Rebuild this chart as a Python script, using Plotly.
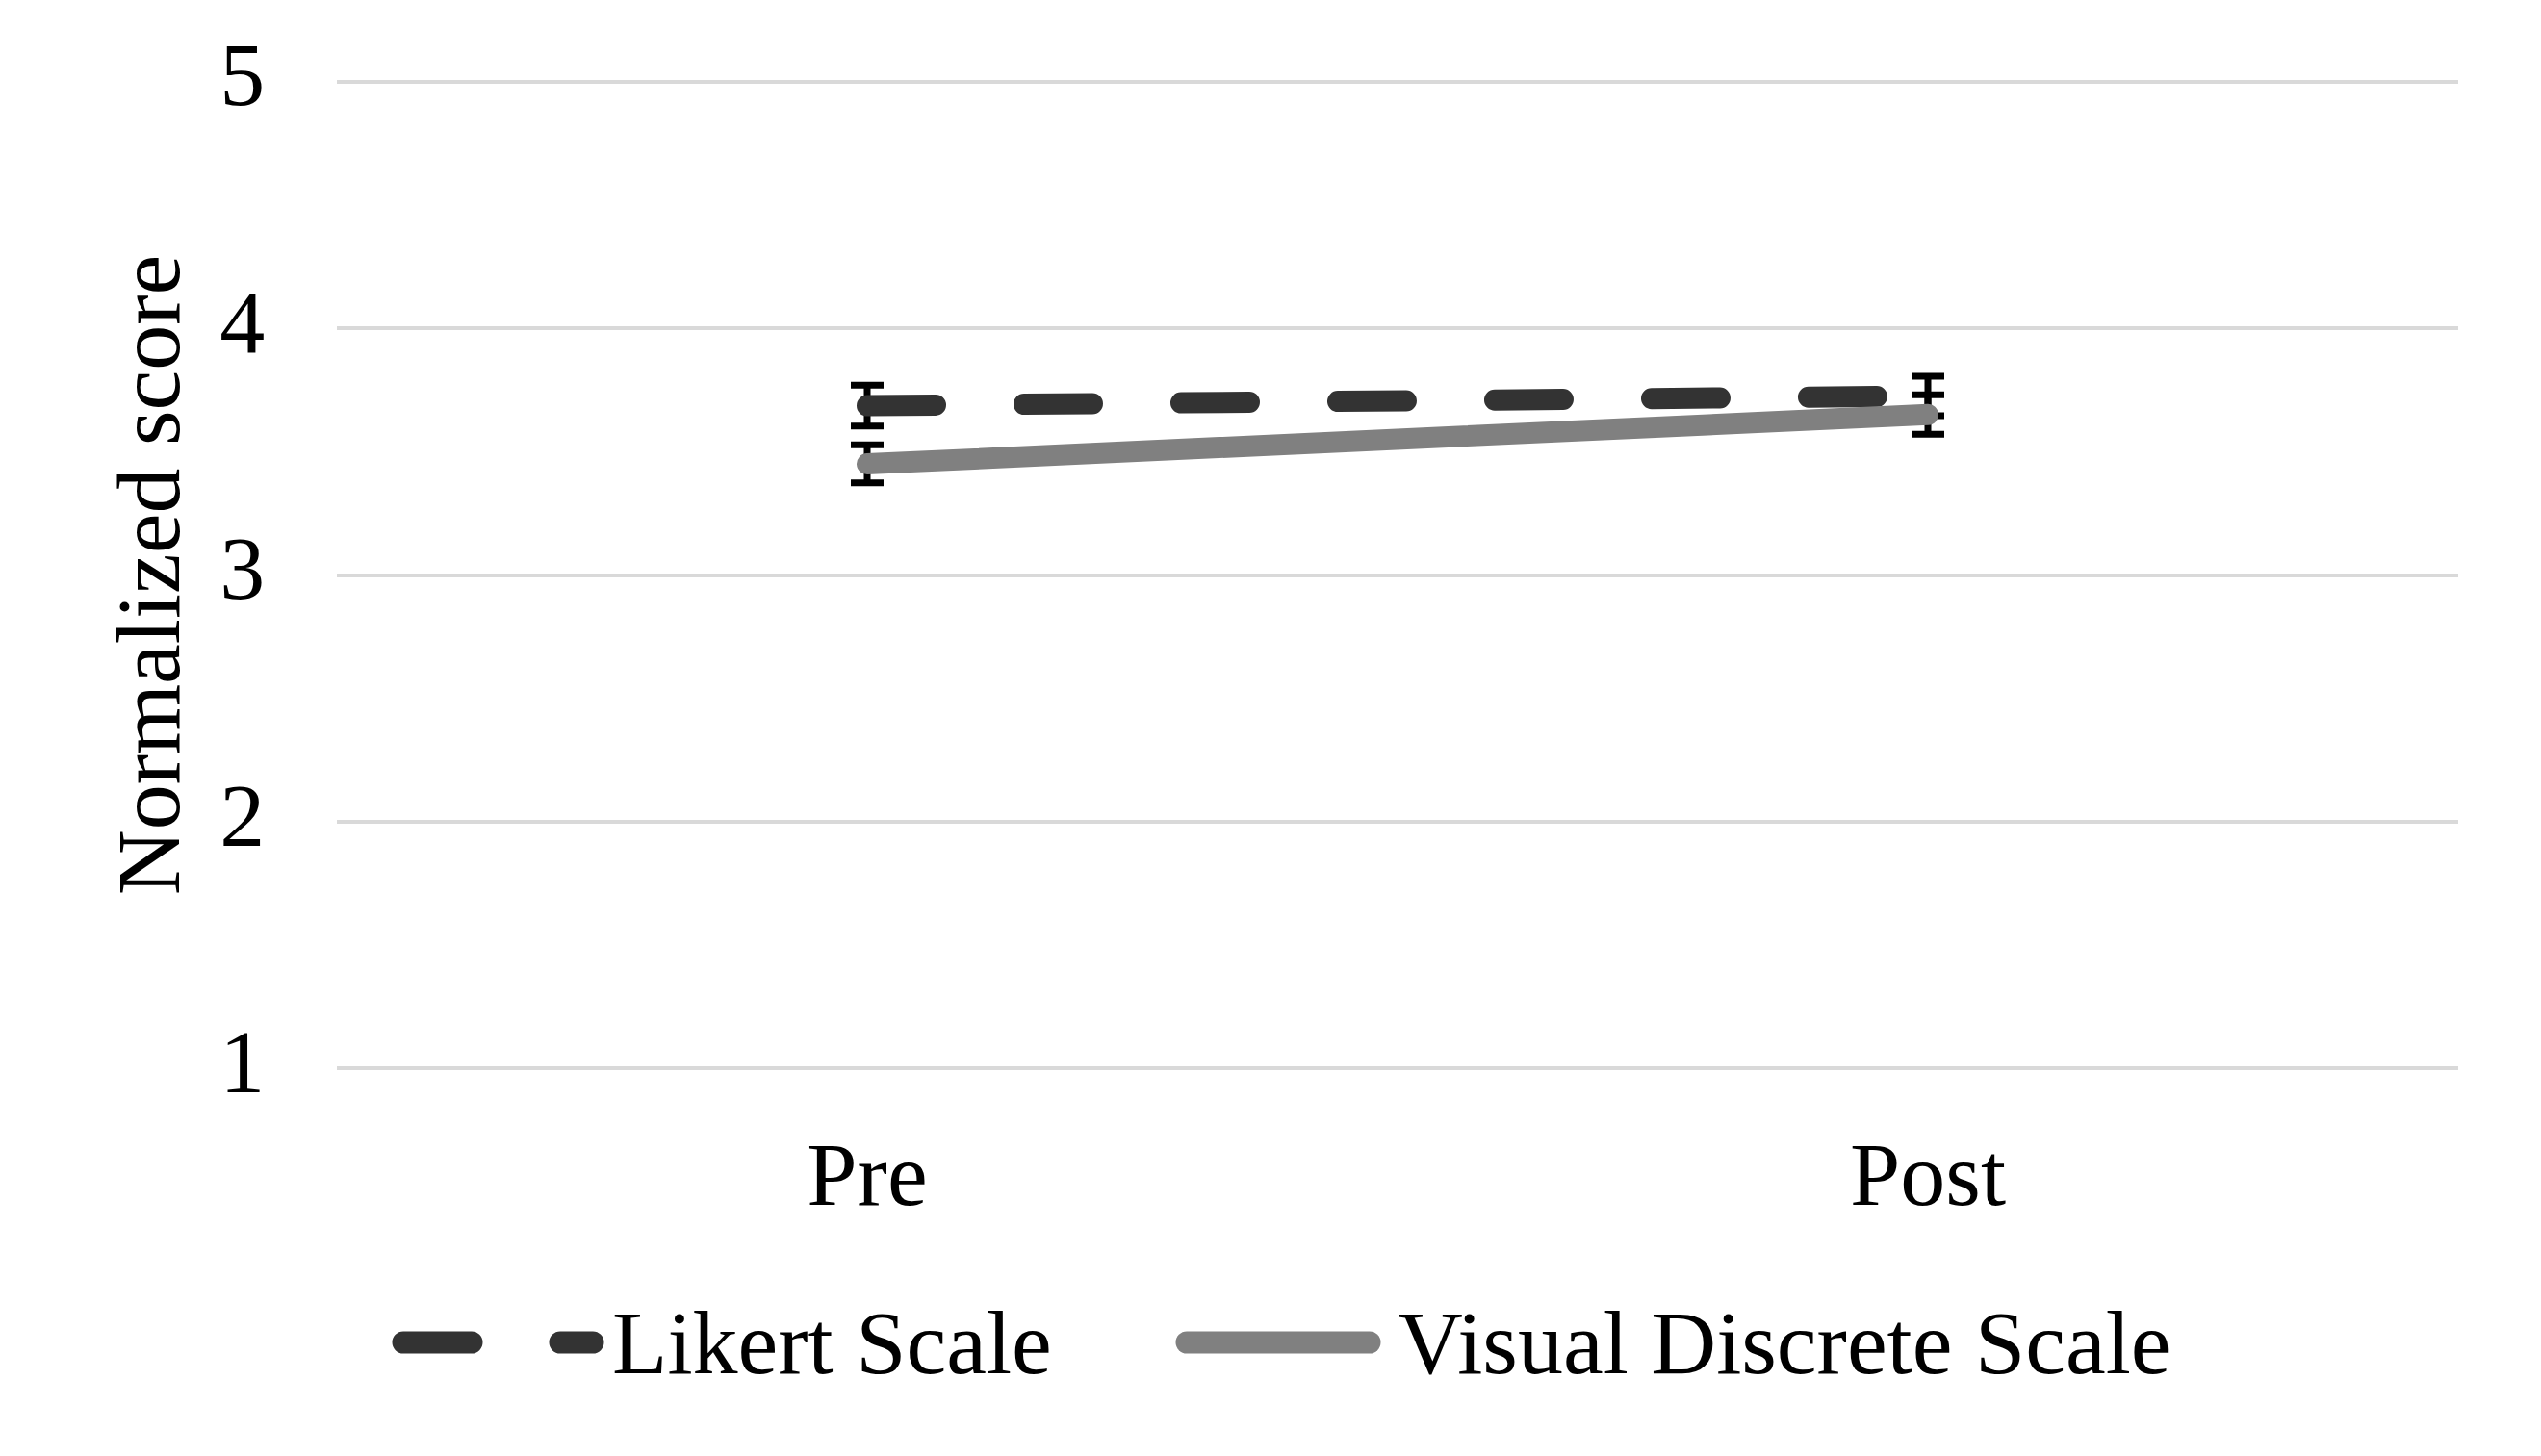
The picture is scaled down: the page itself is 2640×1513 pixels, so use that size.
import plotly.graph_objects as go

categories = ["Pre", "Post"]
likert_values = [3.686, 3.725]
likert_err = [0.083, 0.080]
visual_values = [3.45, 3.65]
visual_err = [0.077, 0.080]
y_ticks = [1, 2, 3, 4, 5]
series_names = ["Likert Scale", "Visual Discrete Scale"]
series_colors = ["#333333", "#808080"]

FONT = "Liberation Serif"
W, H = 2640, 1513
ML, MR, MT, MB = 350, 86, 82, 400
PW, PH = W - ML - MR, H - MT - MB


def px_x(px):
    return (px - ML) / PW


def px_y(py):
    return (H - MB - py) / PH


fig = go.Figure()
fig.add_trace(go.Scatter(
    x=categories, y=likert_values, name=series_names[0], mode="lines",
    line=dict(color=series_colors[0], width=22, dash="71px,92px"),
    error_y=dict(type="data", array=likert_err, visible=True,
                 color="black", thickness=7, width=17),
))
fig.add_trace(go.Scatter(
    x=categories, y=visual_values, name=series_names[1], mode="lines",
    line=dict(color=series_colors[1], width=22),
    error_y=dict(type="data", array=visual_err, visible=True,
                 color="black", thickness=7, width=17),
))

# manual legend (symbols as shapes, labels as annotations)
leg_y = px_y(1395)
shapes = [
    dict(type="line", xref="paper", yref="paper", x0=px_x(419), x1=px_x(616),
         y0=leg_y, y1=leg_y, line=dict(color=series_colors[0], width=23, dash="71px,92px")),
    dict(type="line", xref="paper", yref="paper", x0=px_x(1233), x1=px_x(1423),
         y0=leg_y, y1=leg_y, line=dict(color=series_colors[1], width=23)),
]
annotations = [
    dict(text=series_names[0], xref="paper", yref="paper", x=px_x(634), y=leg_y,
         xanchor="left", yanchor="middle", showarrow=False,
         font=dict(family=FONT, size=94, color="black")),
    dict(text=series_names[1], xref="paper", yref="paper", x=px_x(1450), y=leg_y,
         xanchor="left", yanchor="middle", showarrow=False,
         font=dict(family=FONT, size=94, color="black")),
]

fig.update_layout(
    width=W, height=H,
    margin=dict(l=ML, r=MR, t=MT, b=MB, autoexpand=False),
    paper_bgcolor="white", plot_bgcolor="white",
    font=dict(family=FONT, size=94, color="black"),
    showlegend=False,
    shapes=shapes,
    annotations=annotations,
    xaxis=dict(type="category", range=[-0.5, 1.5], showgrid=False,
               zeroline=False, showline=False,
               ticks="outside", ticklen=25, tickcolor="rgba(0,0,0,0)",
               tickfont=dict(family=FONT, size=94, color="black")),
    yaxis=dict(range=[0.99, 5.01], tickvals=y_ticks, showgrid=True,
               gridcolor="#d9d9d9", gridwidth=4, zeroline=False, showline=False,
               ticks="outside", ticklen=55, tickcolor="rgba(0,0,0,0)",
               ticklabelshift=-8,
               tickfont=dict(family=FONT, size=94, color="black"),
               title=dict(text="Normalized score", standoff=10,
                          font=dict(family=FONT, size=94, color="black"))),
)

post = """
var gd = document.getElementById('{plot_id}');
function caps(){
  gd.querySelectorAll('.scatterlayer path.js-line, .shapelayer path').forEach(function(p){
    p.style.strokeLinecap = 'round';
  });
}
caps();
gd.on('plotly_afterplot', caps);
setTimeout(caps, 50);
setTimeout(caps, 500);
"""
fig.write_html("out.html", post_script=post)
